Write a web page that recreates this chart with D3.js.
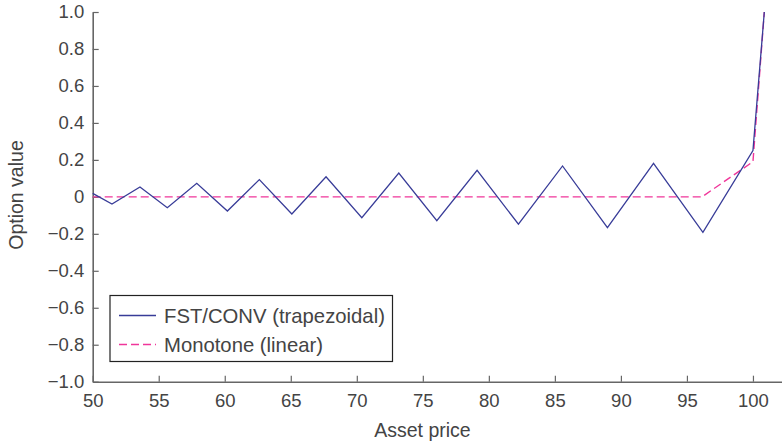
<!DOCTYPE html>
<html>
<head>
<meta charset="utf-8">
<script src="https://cdn.jsdelivr.net/npm/d3@7"></script>
<style>
  body { margin: 0; background: #fff; }
  svg text { font-family: "Liberation Sans", Arial, sans-serif; fill: #444; }
</style>
</head>
<body>
<svg id="chart" width="782" height="442"></svg>
<script>
// data
var fstX = [50, 51.46, 53.58, 55.65, 57.88, 60.2, 62.62, 65.08, 67.67, 70.38, 73.18, 76.06, 79.11, 82.24, 85.58, 88.98, 92.47, 96.21, 100.0, 100.86];
var fstY = [0.019, -0.039, 0.053, -0.059, 0.073, -0.077, 0.093, -0.093, 0.109, -0.113, 0.129, -0.129, 0.144, -0.148, 0.167, -0.167, 0.181, -0.192, 0.25, 1.0];
var monoX = [50, 96.14, 100.0, 100.86];
var monoY = [0, 0, 0.19, 1.0];
var xTicks = [50, 55, 60, 65, 70, 75, 80, 85, 90, 95, 100];
var yTicks = [-1, -0.8, -0.6, -0.4, -0.2, 0, 0.2, 0.4, 0.6, 0.8, 1];
var legendLabels = ["FST/CONV (trapezoidal)", "Monotone (linear)"];

var margin = { top: 12, right: 0, bottom: 60, left: 92.7 },
    width = 782 - margin.left - margin.right,
    height = 442 - margin.top - margin.bottom;

var xScale = d3.scaleLinear().domain([50, 102.2]).range([0, width]);
var yScale = d3.scaleLinear().domain([-1, 1]).range([369.7, 0]);

var svg = d3.select("#chart")
    .append("g")
    .attr("transform", "translate(" + margin.left + "," + margin.top + ")");

function fmt(d) {
    if (d === 0) return "0";
    return (d < 0 ? "\u2212" : "") + Math.abs(d).toFixed(1);
}

// axes, ticks pointing inward
var xAxis = d3.axisBottom(xScale).tickValues(xTicks).tickSizeInner(-6).tickSizeOuter(0).tickPadding(12);
var yAxis = d3.axisLeft(yScale).tickValues(yTicks).tickFormat(fmt).tickSizeInner(-6).tickSizeOuter(0).tickPadding(9);

var gx = svg.append("g")
    .attr("transform", "translate(0," + yScale(-1) + ")")
    .call(xAxis);
var gy = svg.append("g").call(yAxis);

[gx, gy].forEach(function (g) {
    g.select(".domain").attr("stroke", "#666").attr("stroke-width", 1.6);
    g.selectAll(".tick line").attr("stroke", "#666").attr("stroke-width", 1.2);
    g.selectAll(".tick text").style("font-size", "18.5px").attr("fill", "#444");
});
gx.selectAll(".tick text").attr("y", 12).attr("dy", "0.71em");
gy.selectAll(".tick text").attr("x", -8.5);

svg.append("text")
    .attr("x", 422.5 - margin.left)
    .attr("y", 436.5 - margin.top)
    .attr("text-anchor", "middle")
    .style("font-size", "19.5px")
    .text("Asset price");

svg.append("text")
    .attr("transform", "translate(" + (23 - margin.left) + "," + (195 - margin.top) + ") rotate(-90)")
    .attr("text-anchor", "middle")
    .style("font-size", "19.5px")
    .text("Option value");

var line = d3.line()
    .x(function (d) { return xScale(d[0]); })
    .y(function (d) { return yScale(d[1]); });

var monoData = monoX.map(function (x, i) { return [x, monoY[i]]; });
var fstData = fstX.map(function (x, i) { return [x, fstY[i]]; });

svg.append("path")
    .attr("d", line(monoData))
    .attr("fill", "none")
    .attr("stroke", "#f0369a")
    .attr("stroke-width", 1.4)
    .attr("stroke-dasharray", "8,4");

svg.append("path")
    .attr("d", line(fstData))
    .attr("fill", "none")
    .attr("stroke", "#383c98")
    .attr("stroke-width", 1.3);

// legend
var legend = svg.append("g").attr("transform", "translate(" + (110 - margin.left) + "," + (295.5 - margin.top) + ")");
legend.append("rect")
    .attr("width", 282.5)
    .attr("height", 66)
    .attr("fill", "#fff")
    .attr("stroke", "#222")
    .attr("stroke-width", 1.2);
legendLabels.forEach(function (lab, i) {
    var y = 20 + i * 29;
    legend.append("line")
        .attr("x1", 9).attr("x2", 46)
        .attr("y1", y).attr("y2", y)
        .attr("stroke", i === 0 ? "#383c98" : "#f0369a")
        .attr("stroke-width", 1.4)
        .attr("stroke-dasharray", i === 0 ? null : "8,4");
    legend.append("text")
        .attr("x", 54)
        .attr("y", y + 7.5)
        .style("font-size", "20.3px")
        .attr("fill", "#222")
        .text(lab);
});
</script>
</body>
</html>
